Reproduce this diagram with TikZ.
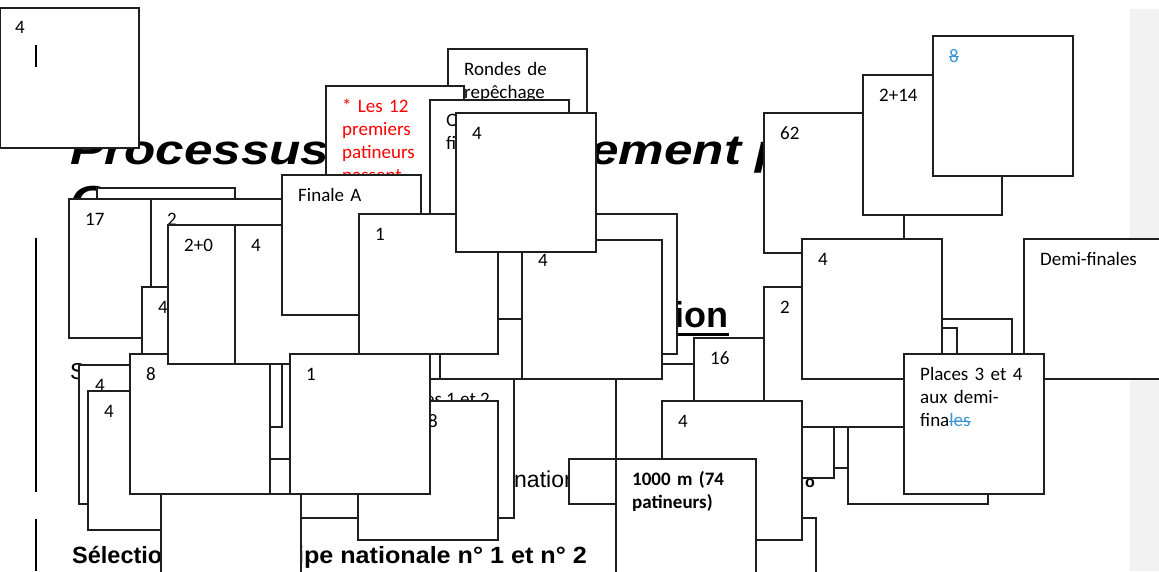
\documentclass[tikz,border=0pt]{standalone}
\usepackage{fontspec}
\setmainfont{Carlito}
\newfontfamily\arialfont[FakeStretch=1.22]{Liberation Sans}
\newfontfamily\arialwide[FakeStretch=1.07]{Liberation Sans}
\newfontfamily\arialplain{Liberation Sans}
\usetikzlibrary{positioning}
\definecolor{trackblue}{RGB}{58,150,214}
\definecolor{sidegray}{RGB}{242,242,242}
\newcommand{\cardfont}{\fontsize{19}{23.3}\selectfont}
\newsavebox{\strikebox}
\newcommand{\strike}[1]{\sbox{\strikebox}{#1}\rlap{\usebox{\strikebox}}\rule[0.25em]{\wd\strikebox}{1.1pt}}
\newcommand{\card}[6]{%
  \draw[frame] (#2,#3) rectangle ++(#4,#5);
  \node[lbl] (#1) at (#2+16,#3+26) {#6};}

\begin{document}
\begin{tikzpicture}[
  x=1pt,y=-1pt,
  frame/.style={draw=black!88,fill=white,line width=1.2pt},
  lbl/.style={anchor=base west,inner sep=0pt,text width=124pt,align=left,font=\cardfont},
  titletxt/.style={anchor=base west,inner sep=0pt,font=\arialfont\bfseries\itshape\fontsize{42}{50}\selectfont},
  headtxt/.style={anchor=base east,inner sep=0pt,font=\arialplain\bfseries\fontsize{36}{40}\selectfont},
  bodytxt/.style={anchor=base west,inner sep=0pt,font=\arialplain\fontsize{23}{28}\selectfont},
  boldtxt/.style={inner sep=0pt,font=\arialplain\bfseries\fontsize{23.5}{28}\selectfont},
  bar/.style={line width=2pt,black}
]
%% ─── Page, margins and grey side panel ──────────────────────────────────────
\useasboundingbox (0,0) rectangle (1159,571);
\clip (0,0) rectangle (1159,571);
\fill[sidegray] (1130,9) rectangle (1159,571);
%% ─── Page text lying under the cards ────────────────────────────────────────
\node[titletxt] (title) at (70,164) {Processus de};
\node[titletxt] (titleB) at (462,164) {classement pour};
\node[titletxt] (title2) at (70,215) {C};
\node[headtxt] (head) at (729,327) {Sélection};
\draw[line width=3pt] ([yshift=-7pt]head.base west) -- ([yshift=-7pt]head.base east);
\node[bodytxt] (sline) at (70,379) {S};
\node[bodytxt] (nation) at (514,487) {nation};
\node[boldtxt,anchor=base west,font=\arialplain\bfseries\fontsize{16}{18}\selectfont] (ordo) at (805,487) {o};
\node[boldtxt,anchor=base west] (selA) at (72,563) {Sélection de};
\node[boldtxt,anchor=base east,font=\arialwide\bfseries\fontsize{23.5}{28}\selectfont] (selB) at (587,563) {l'équipe nationale n° 1 et n° 2};
\draw[bar] (36,238) -- (36,492);
\draw[bar] (36,519) -- (36,571);
%% ─── Top-left card ──────────────────────────────────────────────────────────
\draw[frame,line width=2pt] (0,8) rectangle ++(139,140);
\node[lbl] (cCorner) at (15,33) {4};
\draw[bar] (36,45) -- (36,67);
%% ─── Left cluster ───────────────────────────────────────────────────────────
\card{cBack}{97}{188}{138}{140}{}
\card{cFourA}{79}{365}{140}{139}{4}
\card{cFourB}{88}{391}{140}{139}{4}
\card{cSeventeen}{69}{199}{140}{139}{17}
\card{cTwo}{151}{199}{140}{140}{2}
\card{cFourC}{142}{287}{140}{140}{4}
\card{cUnder}{161}{459}{140}{140}{}
\card{cEight}{130}{354}{140}{140}{8}
\card{cBottom}{161}{494}{140}{140}{}
\card{cTwoZero}{168}{225}{140}{139}{2+0}
\card{cHidA}{337}{239}{140}{140}{}
\card{cHidB}{440}{250}{140}{129}{}
\card{cFourD}{235}{225}{140}{139}{4}
\card{cRondes}{448}{49}{139}{140}{Rondes de\\repêchage}
\card{cNote}{326}{86}{138}{140}{\color{red}* Les 12\\premiers\\patineurs\\passent}
\card{cQuarts}{430}{100}{139}{219}{Quarts de\\finale}
\card{cFinaleA}{282}{175}{139}{140}{Finale A}
\card{cHidC}{537}{214}{140}{140}{}
\card{cHidD}{616}{364}{140}{140}{}
\card{cOneUp}{359}{214}{139}{140}{1}
\card{cFourMid}{522}{240}{140}{139}{4}
\card{cFourTop}{456}{113}{140}{139}{4}
\card{cPlacesA}{301}{379}{213}{139}{}
\node[lbl,anchor=base east,text width=] (tPlacesA) at (490,405) {Places 1 et 2};
\card{cPlacesB}{358}{401}{140}{139}{}
\node[lbl,text width=] (tPlacesB) at (428,427) {8};
\card{cOneLow}{290}{354}{140}{140}{1}
%% ─── Right cluster ──────────────────────────────────────────────────────────
\card{cCover}{569}{459}{140}{45}{}
\card{cHidE}{872}{319}{140}{140}{}
\card{cHidF}{817}{328}{140}{140}{}
\card{cSixteen}{694}{338}{140}{140}{16}
\card{cHidG}{848}{364}{140}{140}{}
\card{cSixtyTwo}{764}{113}{140}{140}{62}
\card{cTwoFourteen}{863}{75}{139}{140}{2+14}
\card{cBlue}{933}{36}{140}{140}{\color{trackblue}\strike{8}}
\card{cTwoR}{764}{287}{140}{140}{2}
\card{cFourR}{802}{239}{140}{140}{4}
\card{cHidH}{676}{518}{140}{140}{}
\card{cFourLow}{662}{401}{140}{139}{4}
\card{cThousand}{616}{459}{140}{140}{\bfseries 1000 m (74\\patineurs)}
\card{cDemi}{1024}{239}{140}{140}{Demi-finales}
\card{cPlacesC}{904}{354}{140}{140}{Places 3 et 4\\aux demi-\\fina{\color{trackblue}\strike{les}}}
\end{tikzpicture}
\end{document}
